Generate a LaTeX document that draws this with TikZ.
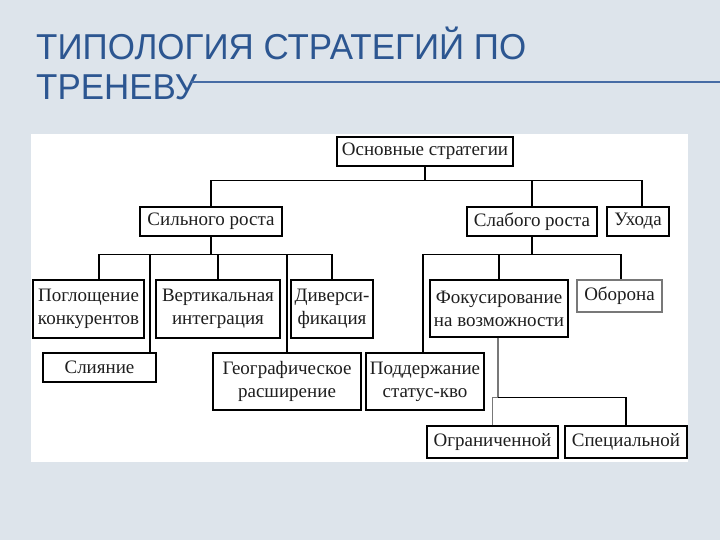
\documentclass[tikz,border=0pt]{standalone}
\usepackage{fontspec}
\setmainfont{Liberation Serif}
\newfontfamily\titlefont[FakeStretch=0.97]{Liberation Sans}
\newfontfamily\diagfont{Liberation Serif}
\definecolor{bgcol}{RGB}{221,228,235}
\definecolor{titlecol}{RGB}{44,86,145}
\definecolor{rulecol}{RGB}{70,108,165}
\definecolor{txtcol}{RGB}{30,30,30}
\definecolor{lightline}{RGB}{120,120,120}
\tikzset{
  box/.style={draw=black, line width=1.4pt, inner sep=0pt, align=center,
    text=txtcol, font=\diagfont\fontsize{19}{23}\selectfont},
  conn/.style={draw=black, line width=1.4pt},
  connlight/.style={draw=lightline, line width=1.4pt},
  ttl/.style={anchor=base west, inner sep=0pt, text=titlecol,
    font=\titlefont\fontsize{36}{40}\selectfont}
}
\begin{document}
\begin{tikzpicture}[x=1pt,y=-1pt]
\useasboundingbox (0,0) rectangle (720,540);
\fill[bgcol] (0,0) rectangle (720,540);
\fill[white] (31,134) rectangle (688,462);

% title
\node[ttl] (title1) at (36,60) {ТИПОЛОГИЯ СТРАТЕГИЙ ПО};
\node[ttl] (title2) at (36,100) {ТРЕНЕВУ};
\draw[rulecol, line width=1.2pt] (191,82) -- (720,82);

% boxes
\node[box, minimum width=176pt, minimum height=29pt] (osn) at (425,151.5) {Основные стратегии};
\node[box, minimum width=142pt, minimum height=29pt] (sil) at (211,221.5) {Сильного роста};
\node[box, minimum width=130pt, minimum height=29pt] (slab) at (532,221.5) {Слабого роста};
\node[box, minimum width=62pt, minimum height=29pt] (uhod) at (638,221.5) {Ухода};

\node[box, minimum width=111pt, minimum height=58pt] (pogl) at (88.5,309) {Поглощение\\конкурентов};
\node[box, minimum width=124pt, minimum height=58pt] (vert) at (218,309) {Вертикальная\\интеграция};
\node[box, minimum width=82pt, minimum height=58pt] (div) at (332,309) {Диверси-\\фикация};
\node[box, minimum width=113pt, minimum height=29pt] (sliy) at (99.5,367.5) {Слияние};
\node[box, minimum width=148pt, minimum height=57pt] (geo) at (287,381.5) {Географическое\\расширение};

\node[box, minimum width=138pt, minimum height=57pt] (fok) at (499,308.5) {Фокусирование\\на возможности};
\node[box, draw=lightline, minimum width=85pt, minimum height=32pt] (obor) at (619.5,296) {Оборона};
\node[box, minimum width=118pt, minimum height=57pt] (podd) at (425,381.5) {Поддержание\\статус-кво};
\node[box, minimum width=131pt, minimum height=32pt] (ogr) at (492.5,442) {Ограниченной};
\node[box, minimum width=122pt, minimum height=32pt] (spec) at (626,442) {Специальной};

% top level connectors
\draw[conn] (osn.south) -- ++(0,14) coordinate (busT);
\draw[conn] (sil.north) |- (busT) -| ([xshift=4pt]uhod.north);
\draw[conn] (slab.north) -- (slab.north |- busT);

% left branch
\draw[conn] (sil.south) -- ++(0,18) coordinate (busL);
\draw[conn] ([xshift=10.5pt]pogl.north) |- (busL) -| (div.north);
\draw[conn] (vert.north) -- (vert.north |- busL);
\draw[conn] ([xshift=50.5pt]sliy.north) -- ([xshift=50.5pt,yshift=1pt]sliy.north |- busL);
\draw[conn] (geo.north) -- (geo.north |- busL);

% right branch
\draw[conn] (slab.south) -- ++(0,18) coordinate (busR);
\draw[conn] ([xshift=-2pt]podd.north) |- (busR) -| ([xshift=1.5pt]obor.north);
\draw[conn] (fok.north) -- (fok.north |- busR);

% bottom branch
\draw[connlight] ([xshift=-1pt]fok.south) -- ++(0,60) coordinate (busB);
\draw[connlight] (ogr.north) |- (busB);
\draw[conn] (busB) -| (spec.north);
\end{tikzpicture}
\end{document}
